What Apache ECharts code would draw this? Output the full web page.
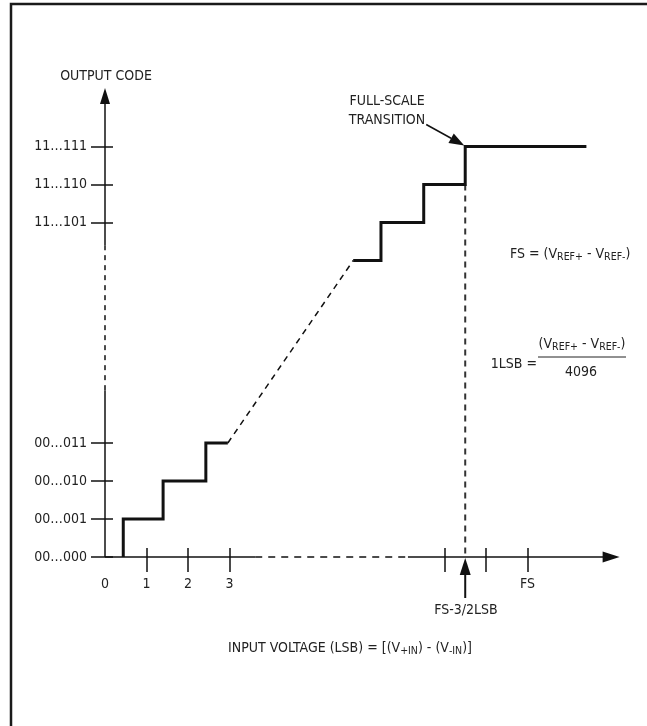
<!DOCTYPE html>
<html><head><meta charset="utf-8">
<script src="https://cdn.jsdelivr.net/npm/echarts@6/dist/echarts.min.js"></script>
<style>html,body{margin:0;padding:0;background:#fff}#c{width:647px;height:726px}</style>
</head><body><div id="c"></div>
<script>
// ---------- data (x: LSB along the drawn, broken axis; y: output-code steps) ----------
const FS = 10.18;                       // position of full scale on the drawn axis
const xLabelValues = [0, 1, 2, 3, FS];
const xLabelTexts  = ['0', '1', '2', '3', 'FS'];
const xTickValues  = [1, 2, 3, FS - 2, FS - 1, FS];
const yCodeValues  = [0, 1, 2, 3, 8.8, 9.8, 10.8];
const yCodeLabels  = ['00…000', '00…001', '00…010', '00…011', '11…101', '11…110', '11…111'];
const lowStairX  = [0.44, 0.44, 1.40, 1.40, 2.43, 2.43, 2.96];
const lowStairY  = [0, 1, 1, 2, 2, 3, 3];
const highStairX = [5.98, 6.65, 6.65, 7.68, 7.68, FS - 1.5, FS - 1.5, 11.6];
const highStairY = [7.8, 7.8, 8.8, 8.8, 9.8, 9.8, 10.8, 10.8];
const midLineX = [2.96, 5.98];
const midLineY = [3, 7.8];
const transitionX = [FS - 1.5, FS - 1.5];
const transitionY = [9.8, 0];
const xRange = [0, 12.4];
const yRange = [0, 12.34];
const xBreak = [3.62, 7.3];
const yBreak = [4.39, 8.2];

// ---------- styling ----------
const INK = '#111';
const TXT = '#222';
const FONT = "'Liberation Sans Narrow','Arial Narrow','DejaVu Sans Condensed',sans-serif";
const FSZ = 14;

const zip = (a, b) => a.map((v, i) => [v, b[i]]);

function renderAnnot(params, api) {
  const o  = api.coord([0, 0]);
  const xa = api.coord([xBreak[0], 0]), xb = api.coord([xBreak[1], 0]), xe = api.coord([xRange[1], 0]);
  const ya = api.coord([0, yBreak[0]]), yb = api.coord([0, yBreak[1]]), ye = api.coord([0, yRange[1]]);
  const solid  = {stroke: INK, lineWidth: 1.5, fill: null};
  const dashed = {stroke: INK, lineWidth: 1.5, fill: null, lineDash: [7, 6]};
  const ah = 17, aw = 5.5;
  const ch = [];
  // x axis
  ch.push({type: 'line', shape: {x1: o[0], y1: o[1], x2: xa[0], y2: xa[1]}, style: solid});
  ch.push({type: 'line', shape: {x1: xa[0], y1: xa[1], x2: xb[0], y2: xb[1]}, style: dashed});
  ch.push({type: 'line', shape: {x1: xb[0], y1: xb[1], x2: xe[0] - ah + 2, y2: xe[1]}, style: solid});
  ch.push({type: 'polygon', shape: {points: [[xe[0], xe[1]], [xe[0] - ah, xe[1] - aw], [xe[0] - ah, xe[1] + aw]]}, style: {fill: INK}});
  // y axis
  const ydash = {stroke: INK, lineWidth: 1.5, fill: null, lineDash: [5, 5]};
  ch.push({type: 'line', shape: {x1: o[0], y1: o[1], x2: ya[0], y2: ya[1]}, style: solid});
  ch.push({type: 'line', shape: {x1: ya[0], y1: ya[1], x2: yb[0], y2: yb[1]}, style: ydash});
  ch.push({type: 'line', shape: {x1: yb[0], y1: yb[1], x2: ye[0], y2: ye[1] + 14}, style: solid});
  ch.push({type: 'polygon', shape: {points: [[ye[0], ye[1]], [ye[0] - 5, ye[1] + 16], [ye[0] + 5, ye[1] + 16]]}, style: {fill: INK}});
  // FS-3/2LSB arrow under the axis
  const t = api.coord([FS - 1.5, 0]);
  ch.push({type: 'line', shape: {x1: t[0], y1: t[1] + 14, x2: t[0], y2: t[1] + 41}, style: {stroke: INK, lineWidth: 2}});
  ch.push({type: 'polygon', shape: {points: [[t[0], t[1] + 1], [t[0] - 5.5, t[1] + 18], [t[0] + 5.5, t[1] + 18]]}, style: {fill: INK}});
  // FULL-SCALE TRANSITION arrow
  const c = api.coord([FS - 1.5, 10.8]);
  const tip = [c[0] - 1, c[1] - 1];
  const tail = [tip[0] - 38, tip[1] - 21];
  const L = Math.hypot(tip[0] - tail[0], tip[1] - tail[1]);
  const d = [(tip[0] - tail[0]) / L, (tip[1] - tail[1]) / L];
  const p = [-d[1], d[0]];
  const base = [tip[0] - d[0] * 15, tip[1] - d[1] * 15];
  ch.push({type: 'line', shape: {x1: tail[0], y1: tail[1], x2: base[0], y2: base[1]}, style: {stroke: INK, lineWidth: 1.5}});
  ch.push({type: 'polygon', shape: {points: [tip, [base[0] + p[0] * 5.5, base[1] + p[1] * 5.5], [base[0] - p[0] * 5.5, base[1] - p[1] * 5.5]]}, style: {fill: INK}});
  return {type: 'group', children: ch};
}

const txt = (s, x, y, align, extra) => Object.assign({
  type: 'text', x: x, y: y, silent: true,
  style: Object.assign({text: s, fill: TXT, fontFamily: FONT, fontSize: FSZ, align: align || 'center', verticalAlign: 'middle'}, extra || {})
});
const RICH = {
  a: {fontFamily: FONT, fontSize: FSZ, fill: TXT, color: TXT, verticalAlign: 'bottom', padding: [0, 0, 2, 0]},
  s: {fontFamily: FONT, fontSize: 10.5, fill: TXT, color: TXT, verticalAlign: 'bottom'}
};

const chart = echarts.init(document.getElementById('c'), null, {renderer: 'canvas'});
chart.setOption({
  animation: false,
  backgroundColor: '#fff',
  grid: {left: 105, top: 88, width: 514.6, height: 469},
  xAxis: [
    {type: 'value', min: xRange[0], max: xRange[1], position: 'bottom',
      axisLine: {show: false}, splitLine: {show: false},
      axisTick: {show: true, customValues: xTickValues, length: 15, lineStyle: {color: INK, width: 1.5}},
      axisLabel: {show: true, customValues: xLabelValues, margin: 20, color: TXT, fontFamily: FONT, fontSize: FSZ,
        formatter: v => { const i = xLabelValues.findIndex(q => Math.abs(q - v) < 1e-6); return i < 0 ? '' : xLabelTexts[i]; }}},
    {type: 'value', min: xRange[0], max: xRange[1], position: 'bottom',
      axisLine: {show: false}, splitLine: {show: false}, axisLabel: {show: false},
      axisTick: {show: true, inside: true, customValues: xTickValues, length: 9, lineStyle: {color: INK, width: 1.5}}}
  ],
  yAxis: [
    {type: 'value', min: yRange[0], max: yRange[1], position: 'left',
      axisLine: {show: false}, splitLine: {show: false},
      axisTick: {show: true, customValues: yCodeValues, length: 14, lineStyle: {color: INK, width: 1.5}},
      axisLabel: {show: true, customValues: yCodeValues, margin: 18, color: TXT, fontFamily: FONT, fontSize: FSZ,
        formatter: v => { const i = yCodeValues.findIndex(q => Math.abs(q - v) < 1e-6); return i < 0 ? '' : yCodeLabels[i]; }}},
    {type: 'value', min: yRange[0], max: yRange[1], position: 'left',
      axisLine: {show: false}, splitLine: {show: false}, axisLabel: {show: false},
      axisTick: {show: true, inside: true, customValues: yCodeValues, length: 8, lineStyle: {color: INK, width: 1.5}}}
  ],
  series: [
    {type: 'custom', coordinateSystem: 'cartesian2d', renderItem: renderAnnot, data: [[0, 0]], clip: false, silent: true, z: 1},
    {type: 'line', data: zip(midLineX, midLineY), showSymbol: false, silent: true, z: 2,
      lineStyle: {color: INK, width: 1.5, type: [6, 5]}},
    {type: 'line', data: zip(transitionX, transitionY), showSymbol: false, silent: true, z: 2,
      lineStyle: {color: '#333', width: 2, type: [6, 5]}},
    {type: 'line', data: zip(lowStairX, lowStairY), showSymbol: false, silent: true, z: 3,
      lineStyle: {color: INK, width: 3, join: 'miter', cap: 'butt'}},
    {type: 'line', data: zip(highStairX, highStairY), showSymbol: false, silent: true, z: 3,
      lineStyle: {color: INK, width: 3, join: 'miter', cap: 'butt'}}
  ],
  graphic: [
    {type: 'rect', silent: true, z: -10, shape: {x: 11, y: 4, width: 700, height: 800}, style: {fill: 'none', stroke: '#1a1a1a', lineWidth: 2.5}},
    txt('OUTPUT CODE', 106, 76),
    txt('FULL-SCALE', 387, 101),
    txt('TRANSITION', 387, 120),
    txt('FS-3/2LSB', 466, 610),
    {type: 'text', x: 510, y: 255, silent: true,
      style: {text: '{a|FS = (V}{s|REF+}{a| - V}{s|REF-}{a|)}', rich: RICH, align: 'left', verticalAlign: 'middle', fill: TXT}},
    txt('1LSB =', 537, 364, 'right'),
    {type: 'text', x: 582, y: 345, silent: true,
      style: {text: '{a|(V}{s|REF+}{a| - V}{s|REF-}{a|)}', rich: RICH, align: 'center', verticalAlign: 'middle', fill: TXT}},
    {type: 'line', silent: true, shape: {x1: 538, y1: 357, x2: 626, y2: 357}, style: {stroke: TXT, lineWidth: 1}},
    txt('4096', 581, 372),
    {type: 'text', x: 350, y: 649, silent: true,
      style: {text: '{a|INPUT VOLTAGE (LSB) = [(V}{s|+IN}{a|) - (V}{s|-IN}{a|)]}', rich: RICH, align: 'center', verticalAlign: 'middle', fill: TXT}}
  ]
});
</script></body></html>
